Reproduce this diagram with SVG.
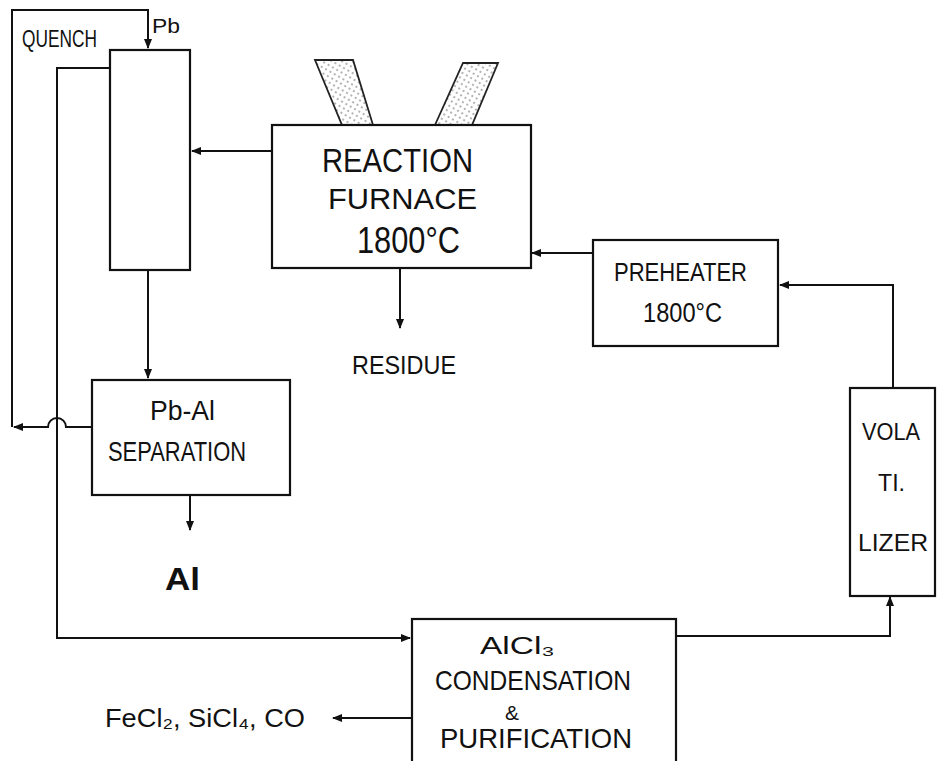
<svg xmlns="http://www.w3.org/2000/svg" width="941" height="761" viewBox="0 0 941 761">
<style>
.box{fill:#fff;stroke:#111;stroke-width:2.2}
.ln{fill:none;stroke:#111;stroke-width:2}
.t{font-family:"Liberation Sans","DejaVu Sans",sans-serif;fill:#111}
.el{fill:url(#hatch);stroke:#222;stroke-width:1.8}
</style>
<defs>
<marker id="ah" viewBox="0 0 10 10" refX="9" refY="5" markerWidth="5" markerHeight="5" orient="auto" markerUnits="strokeWidth">
<path d="M0,1 L10,5 L0,9 Z" fill="#111"/>
</marker>
<pattern id="hatch" width="5" height="5" patternUnits="userSpaceOnUse" patternTransform="rotate(30)">
<rect width="5" height="5" fill="#fff"/>
<circle cx="2" cy="2" r="0.8" fill="#555"/>
</pattern>
</defs>

<g id="connectors">
<path class="ln" d="M12,427 L12,10 L148,10 L148,48" marker-end="url(#ah)"/>
<path class="ln" d="M92,427 L66,427 A9,9 0 0 0 48,427 L14,427" marker-end="url(#ah)"/>
<path class="ln" d="M110,68 L57,68 L57,638 L410,638" marker-end="url(#ah)"/>
<path class="ln" d="M272,151 L192,151" marker-end="url(#ah)"/>
<path class="ln" d="M148,270 L148,378" marker-end="url(#ah)"/>
<path class="ln" d="M190,495 L190,530" marker-end="url(#ah)"/>
<path class="ln" d="M400,269 L400,328" marker-end="url(#ah)"/>
<path class="ln" d="M593,253 L532,253" marker-end="url(#ah)"/>
<path class="ln" d="M893,387 L893,285 L780,285" marker-end="url(#ah)"/>
<path class="ln" d="M676,636 L890,636 L890,597" marker-end="url(#ah)"/>
<path class="ln" d="M412,718 L333,718" marker-end="url(#ah)"/>
</g>

<g id="quench-column">
<rect class="box" x="110" y="50" width="80" height="220"/>
<text class="t" x="22" y="47" font-size="24" textLength="75" lengthAdjust="spacingAndGlyphs">QUENCH</text>
<text class="t" x="152" y="33" font-size="20" textLength="28" lengthAdjust="spacingAndGlyphs">Pb</text>
</g>

<g id="reaction-furnace">
<polygon class="el" points="315,60 353,60 373,125 342,125"/>
<polygon class="el" points="463,63 498,63 472,125 435,125"/>
<rect class="box" x="272" y="125" width="259" height="143"/>
<text class="t" x="322" y="172" font-size="34" textLength="151" lengthAdjust="spacingAndGlyphs">REACTION</text>
<text class="t" x="328" y="209" font-size="30" textLength="149" lengthAdjust="spacingAndGlyphs">FURNACE</text>
<text class="t" x="357" y="253" font-size="36" textLength="103" lengthAdjust="spacingAndGlyphs">1800°C</text>
</g>

<g id="residue">
<text class="t" x="352" y="374" font-size="25" textLength="104" lengthAdjust="spacingAndGlyphs">RESIDUE</text>
</g>

<g id="preheater">
<rect class="box" x="593" y="240" width="185" height="106"/>
<text class="t" x="614" y="281" font-size="25" textLength="133" lengthAdjust="spacingAndGlyphs">PREHEATER</text>
<text class="t" x="643" y="322" font-size="27" textLength="79" lengthAdjust="spacingAndGlyphs">1800°C</text>
</g>

<g id="pb-al-separation">
<rect class="box" x="92" y="380" width="198" height="115"/>
<text class="t" x="150" y="420" font-size="27" textLength="65" lengthAdjust="spacingAndGlyphs">Pb-Al</text>
<text class="t" x="108" y="461" font-size="28" textLength="138" lengthAdjust="spacingAndGlyphs">SEPARATION</text>
</g>

<g id="al">
<text class="t" x="165" y="590" font-size="31" font-weight="bold" textLength="35" lengthAdjust="spacingAndGlyphs">Al</text>
</g>

<g id="volatilizer">
<rect class="box" x="850" y="388" width="85" height="208"/>
<text class="t" x="862" y="440" font-size="23" textLength="58" lengthAdjust="spacingAndGlyphs">VOLA</text>
<text class="t" x="878" y="491" font-size="23" textLength="27" lengthAdjust="spacingAndGlyphs">TI.</text>
<text class="t" x="858" y="551" font-size="23" textLength="70" lengthAdjust="spacingAndGlyphs">LIZER</text>
</g>

<g id="alcl3-condensation">
<rect class="box" x="412" y="619" width="264" height="145"/>
<text class="t" x="480" y="654" font-size="23" textLength="75" lengthAdjust="spacingAndGlyphs">AlCl₃</text>
<text class="t" x="435" y="690" font-size="28" textLength="196" lengthAdjust="spacingAndGlyphs">CONDENSATION</text>
<text class="t" x="505" y="720" font-size="20" textLength="14" lengthAdjust="spacingAndGlyphs">&amp;</text>
<text class="t" x="440" y="748" font-size="28" textLength="192" lengthAdjust="spacingAndGlyphs">PURIFICATION</text>
</g>

<g id="byproducts">
<text class="t" x="105" y="727" font-size="25" textLength="200" lengthAdjust="spacingAndGlyphs">FeCl₂, SiCl₄, CO</text>
</g>
</svg>
